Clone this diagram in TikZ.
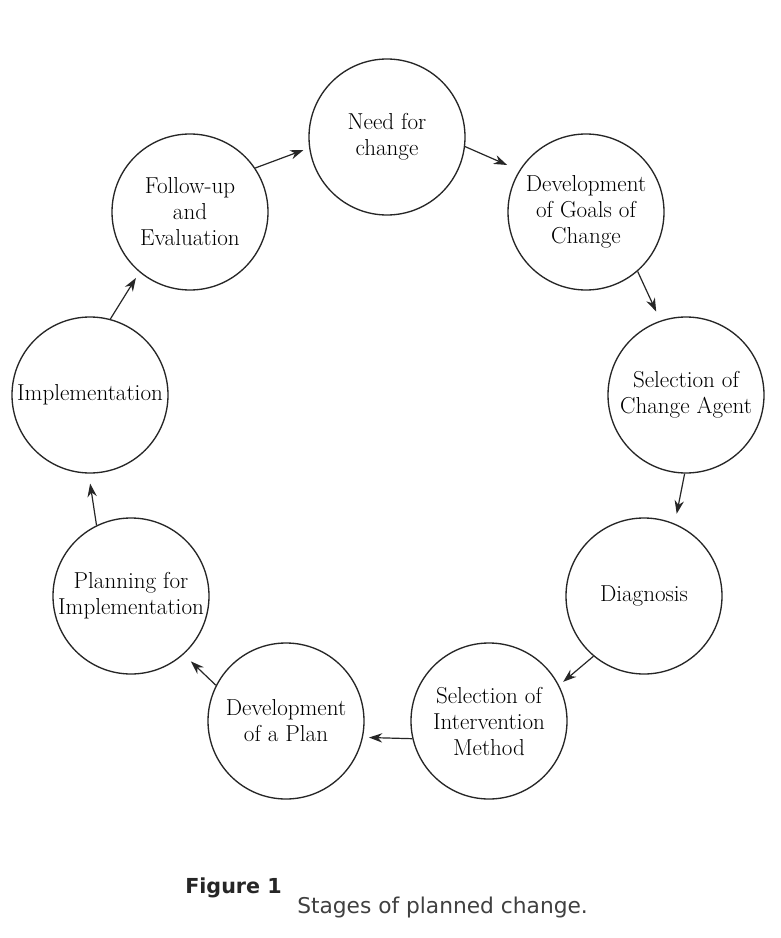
\documentclass[tikz,border=0pt]{standalone}
\usepackage{fontspec}
\newfontfamily\capfont{DejaVu Sans}
\usetikzlibrary{arrows.meta}

\tikzset{
  stage/.style={circle, draw=black!85, line width=1pt, minimum size=117pt, inner sep=0pt, align=center, font=\fontsize{17.3}{19.5}\selectfont},
  flow/.style={draw=black!85, line width=0.9pt, -{Stealth[length=10pt,width=7pt]}}
}

\begin{document}
\begin{tikzpicture}[x=0.75pt,y=0.75pt,yscale=-1,xscale=1]
%set diagram size to 781 x 938
\fill [white] (0,0) rectangle (781,938);
\useasboundingbox (0,0) rectangle (781,938);

%Shape: Circles of the stages
\node [stage] (need) at (387,137) {Need for\\change};
\node [stage] (goals) at (586,212) {Development\\of Goals of\\Change};
\node [stage] (agent) at (686,395) {Selection of\\Change Agent};
\node [stage] (diag) at (644,596) {Diagnosis};
\node [stage] (interv) at (489,721) {Selection of\\Intervention\\Method};
\node [stage] (plan) at (286,721) {Development\\of a Plan};
\node [stage] (planning) at (131,596) {Planning for\\Implementation};
\node [stage] (impl) at (90,395) {Implementation};
\node [stage] (follow) at (190,212) {Follow-up\\and\\Evaluation};

%Straight Lines: arrows round the cycle
\draw [flow, shorten >=4.5pt] (follow.34) -- (need.188);
\draw [flow, shorten >=10pt] (need.-7) -- (goals.148);
\draw [flow, shorten >=7.5pt] (goals.-49) -- (agent.109);
\draw [flow, shorten >=7.5pt] (agent.-91) -- (diag.67);
\draw [flow, shorten >=4pt] (diag.230) -- (interv.27);
\draw [flow, shorten >=4.5pt] (interv.193) -- (plan.-12);
\draw [flow, shorten >=7.5pt] (plan.153) -- (planning.-48);
\draw [flow, shorten >=7.5pt] (planning.116) -- (impl.-91);
\draw [flow, shorten >=5pt] (impl.75) -- (follow.230);

% Text Node
\node [anchor=base west, inner sep=0pt, text=black!85, font=\capfont\bfseries\fontsize{15.5}{18}\selectfont] (fig) at (185,893) {Figure 1};
% Text Node
\node [anchor=base west, inner sep=0pt, text=black!75, font=\capfont\fontsize{16.3}{18}\selectfont] (caption) at (297,913) {Stages of planned change.};

\end{tikzpicture}
\end{document}
